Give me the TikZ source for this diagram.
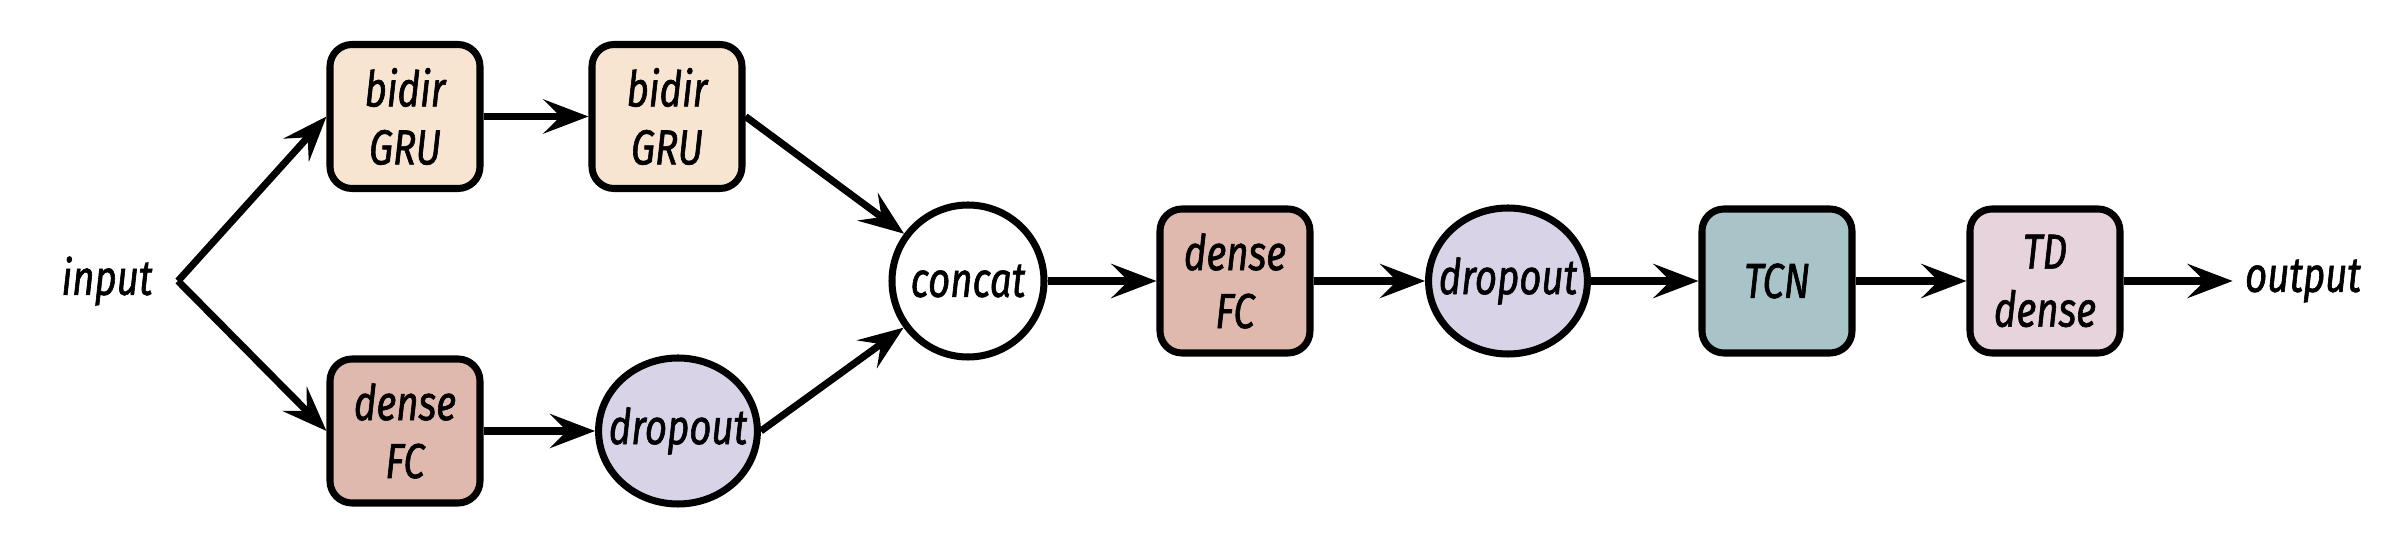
\documentclass[tikz,border=0pt]{standalone}
\usepackage{fontspec}
\newfontfamily\sketchfont[FakeStretch=0.78, FakeBold=1.2]{Fira Sans}
\usepackage{tikz}
\usetikzlibrary{arrows.meta, shapes.geometric}

\definecolor{gruFill}{HTML}{F8E5D1}
\definecolor{fcFill}{HTML}{DFB8AE}
\definecolor{dropFill}{HTML}{D8D3E6}
\definecolor{tcnFill}{HTML}{A8C4C9}
\definecolor{tdFill}{HTML}{E7D3DC}

\begin{document}
\begin{tikzpicture}[font=\sketchfont\itshape\fontsize{14}{16.5}\selectfont]
        % Define node styles
        \tikzstyle{layer} = [draw, line width=2pt, rectangle, rounded corners=2.2mm, minimum width=1.5cm, minimum height=1.44cm, align=center]
        \tikzstyle{blob} = [draw, line width=2pt, ellipse, inner xsep=-1.3mm, inner ysep=0pt, minimum width=1.54cm, minimum height=1.46cm, align=center]
        \tikzstyle{flow} = [-{Stealth[length=4.5mm, width=3.4mm, inset=1.7mm]}, line width=2pt]

        \useasboundingbox (0,0) rectangle (24.06,-5.52);

        % Draw the nodes
        \node (input) at (1.07,-2.81) {input};
        \coordinate (split) at (1.78,-2.81);

        \node[layer, fill=gruFill] (gru1) at (4.05,-1.165) {bidir\\GRU};
        \node[layer, fill=gruFill, right of=gru1, xshift=1.62cm] (gru2) {bidir\\GRU};

        \node[layer, fill=fcFill] (fc1) at (4.05,-4.31) {dense\\FC};
        \node[blob, fill=dropFill, right of=fc1, xshift=1.73cm] (drop1) {dropout};

        \node[blob, fill=white, minimum width=1.52cm, minimum height=1.52cm] (concat) at (9.68,-2.81) {concat};
        \node[layer, fill=fcFill, right of=concat, xshift=1.67cm] (fc2) {dense\\FC};
        \node[blob, fill=dropFill, right of=fc2, xshift=1.73cm] (drop2) {dropout};
        \node[layer, fill=tcnFill, right of=drop2, xshift=1.69cm] (tcn) {TCN};
        \node[layer, fill=tdFill, right of=tcn, xshift=1.68cm] (tdd) {TD\\dense};
        \node[right of=tdd, xshift=1.58cm] (output) {output};

        % Draw the connectors
        \draw[flow] (split) -- (gru1.west);
        \draw[flow] (split) -- (fc1.west);
        \draw[flow] (gru1) -- (gru2);
        \draw[flow] (fc1) -- (drop1);
        \draw[flow] (gru2.east) -- (concat);
        \draw[flow] (drop1.east) -- (concat);
        \draw[flow] (concat) -- (fc2);
        \draw[flow] (fc2) -- (drop2);
        \draw[flow] (drop2) -- (tcn);
        \draw[flow] (tcn) -- (tdd);
        \draw[flow] (tdd) -- (output);
    \end{tikzpicture}
\end{document}
